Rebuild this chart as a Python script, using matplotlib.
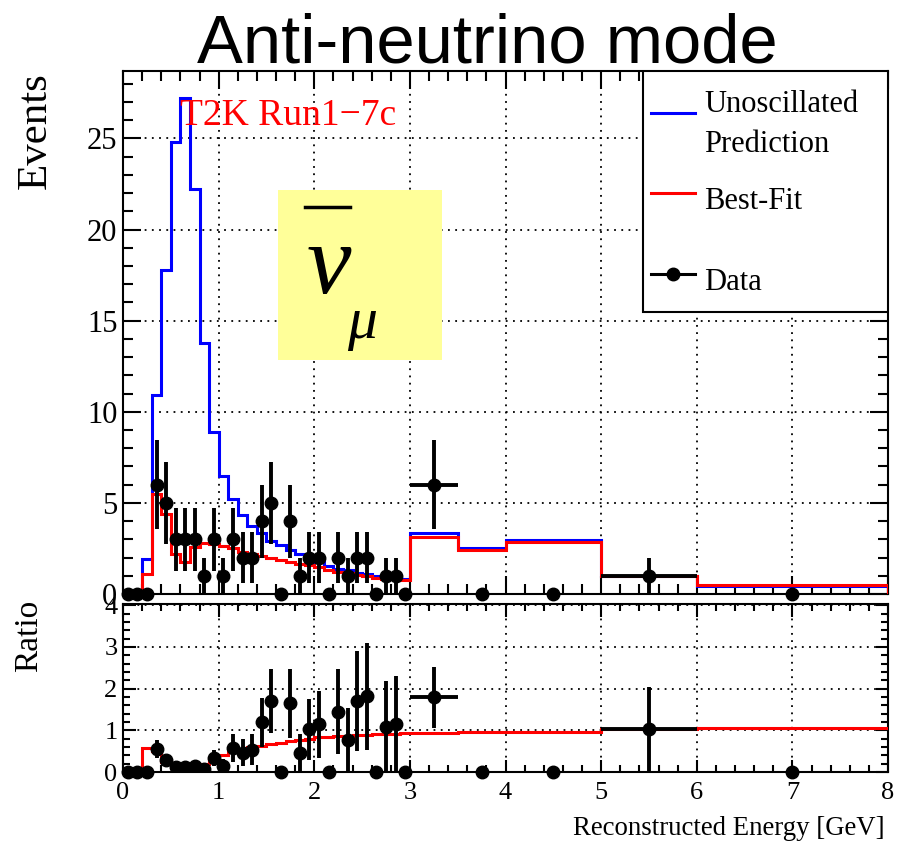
import numpy as np
import matplotlib
matplotlib.use("Agg")
import matplotlib.pyplot as plt
from matplotlib.ticker import MultipleLocator
from matplotlib.patches import Rectangle

plt.rcParams['font.family'] = ['Liberation Serif', 'DejaVu Serif']

# binning of reconstructed energy [GeV]
edges = np.array([0.0, 0.1, 0.2, 0.3, 0.4, 0.5, 0.6, 0.7, 0.8, 0.9,
                  1.0, 1.1, 1.2, 1.3, 1.4, 1.5, 1.6, 1.7, 1.8, 1.9,
                  2.0, 2.1, 2.2, 2.3, 2.4, 2.5, 2.6, 2.7, 2.8, 2.9,
                  3.0, 3.5, 4.0, 5.0, 6.0, 8.0])

# observed events per bin
data = np.array([0, 0, 0, 6, 5, 3, 3, 3, 1, 3,
                 1, 3, 2, 2, 4, 5, 0, 4, 1, 2,
                 2, 0, 2, 1, 2, 2, 0, 1, 1, 0,
                 6, 0, 0, 1, 0])

# unoscillated prediction
unosc = np.array([0, 0, 1.9, 10.9, 17.8, 24.8, 27.2, 22.2, 13.8, 8.9,
                  6.5, 5.2, 4.36, 3.72, 3.36, 2.92, 2.7, 2.42, 2.17, 1.96,
                  1.75, 1.55, 1.38, 1.3, 1.18, 1.1, 1.0, 0.92, 0.87, 0.82,
                  3.35, 2.5, 2.98, 0.98, 0.45])

# best-fit prediction
bestfit = np.array([0, 0, 1.1, 5.5, 4.4, 2.2, 1.74, 2.56, 2.8, 2.75,
                    2.65, 2.5, 2.33, 2.2, 2.1, 1.98, 1.88, 1.78, 1.67, 1.57,
                    1.47, 1.3, 1.19, 1.13, 1.04, 0.98, 0.9, 0.84, 0.8, 0.76,
                    3.12, 2.4, 2.86, 1.0, 0.47])

centers = 0.5 * (edges[:-1] + edges[1:])
halfw = 0.5 * (edges[1:] - edges[:-1])
has = data > 0

safe = np.where(unosc > 0, unosc, 1.0)
ratio_data = np.where(unosc > 0, data / safe, 0.0)
ratio_err = np.where(unosc > 0, np.sqrt(data) / safe, 0.0)
ratio_fit = np.where(unosc > 0, bestfit / safe, 0.0)

MS = 9
fig = plt.figure(figsize=(9.04, 8.44), dpi=100)
ax = fig.add_axes([0.1361, 0.2962, 0.8462, 0.6197])
axr = fig.add_axes([0.1361, 0.0853, 0.8462, 0.1991])

# ---- top panel ----
ax.stairs(unosc, edges, baseline=0, color='blue', lw=2.2, zorder=3)
ax.stairs(bestfit, edges, baseline=0, color='red', lw=2.2, zorder=3)
ax.errorbar(centers[has], data[has], yerr=np.sqrt(data[has]), xerr=halfw[has],
            fmt='o', color='black', ms=MS, elinewidth=2.8, capsize=0, zorder=5)
ax.plot(centers[~has], data[~has], 'o', color='black', ms=MS, clip_on=False, zorder=5)

ax.set_xlim(0, 8)
ax.set_ylim(0, 28.7)

# ---- ratio panel ----
axr.stairs(ratio_fit, edges, baseline=None, color='red', lw=2.2, zorder=3)
axr.errorbar(centers[has], ratio_data[has], yerr=ratio_err[has], xerr=halfw[has],
             fmt='o', color='black', ms=MS, elinewidth=2.8, capsize=0, zorder=5)
axr.plot(centers[~has], ratio_data[~has], 'o', color='black', ms=MS, clip_on=False, zorder=5)
axr.set_xlim(0, 8)
axr.set_ylim(0, 4.03)

for a in (ax, axr):
    a.xaxis.set_major_locator(MultipleLocator(1))
    a.xaxis.set_minor_locator(MultipleLocator(0.2))
    a.grid(True, which='major', linestyle=(0, (1, 3)), color='black', lw=1.3)
    a.set_axisbelow(True)
    for s in a.spines.values():
        s.set_linewidth(1.5)
    a.tick_params(which='both', direction='in', top=True, right=True, width=1.5)

ax.yaxis.set_major_locator(MultipleLocator(5))
ax.yaxis.set_minor_locator(MultipleLocator(1))
ax.tick_params(which='major', length=13, labelsize=22, pad=4)
ax.tick_params(which='minor', length=7)
ax.tick_params(labelbottom=False)

axr.yaxis.set_major_locator(MultipleLocator(1))
axr.yaxis.set_minor_locator(MultipleLocator(0.2))
axr.tick_params(which='major', length=9, labelsize=19)
axr.tick_params(which='minor', length=5)
axr.tick_params(axis='x', pad=7)
axr.tick_params(axis='y', pad=4)

# ---- texts ----
fig.text(0.539, 0.9265, 'Anti-neutrino mode', family='Liberation Sans',
         fontsize=49.5, ha='center', va='baseline')
fig.text(0.039, 0.9147, 'Events', fontsize=31, rotation=90, ha='center', va='top')
fig.text(0.032, 0.289, 'Ratio', fontsize=24, rotation=90, ha='center', va='top')
fig.text(0.979, 0.0107, 'Reconstructed Energy [GeV]', fontsize=19.3, ha='right', va='baseline')

ax.text(0.0745, 0.8967, 'T2K Run1\u22127c', color='red', fontsize=27,
        transform=ax.transAxes, ha='left', va='baseline', zorder=6)

# yellow neutrino box
ax.add_patch(Rectangle((0.203, 0.447), 0.2136, 0.325, transform=ax.transAxes,
                       facecolor='#ffff99', edgecolor='none', zorder=4))
ax.plot([0.238, 0.297], [0.7405, 0.7405], transform=ax.transAxes, color='black', lw=2.5, zorder=6)
ax.text(0.269, 0.5755, '\u03bd', fontsize=72, style='italic', transform=ax.transAxes,
        ha='center', va='baseline', zorder=6)
ax.text(0.3124, 0.4895, '\u03bc', fontsize=43, style='italic', transform=ax.transAxes,
        ha='center', va='baseline', zorder=6)

# legend box
ax.add_patch(Rectangle((0.6797, 0.539), 0.3203, 0.461, transform=ax.transAxes,
                       facecolor='white', edgecolor='black', lw=1.5, zorder=7))
ax.plot([0.6905, 0.7477], [0.9203, 0.9203], transform=ax.transAxes, color='blue', lw=2.2, zorder=8)
ax.plot([0.6905, 0.7477], [0.7662, 0.7662], transform=ax.transAxes, color='red', lw=2.2, zorder=8)
ax.plot([0.6905, 0.7477], [0.6119, 0.6119], transform=ax.transAxes, color='black', lw=2.2, zorder=8)
ax.plot([0.719], [0.6119], 'o', transform=ax.transAxes, color='black', ms=MS, zorder=8)
for y, s in [(0.9222, 'Unoscillated'), (0.8457, 'Prediction'),
             (0.7356, 'Best-Fit'), (0.5813, 'Data')]:
    ax.text(0.7595, y, s, fontsize=22, transform=ax.transAxes,
            ha='left', va='baseline', zorder=8)

fig.savefig('out.png', dpi=100)
